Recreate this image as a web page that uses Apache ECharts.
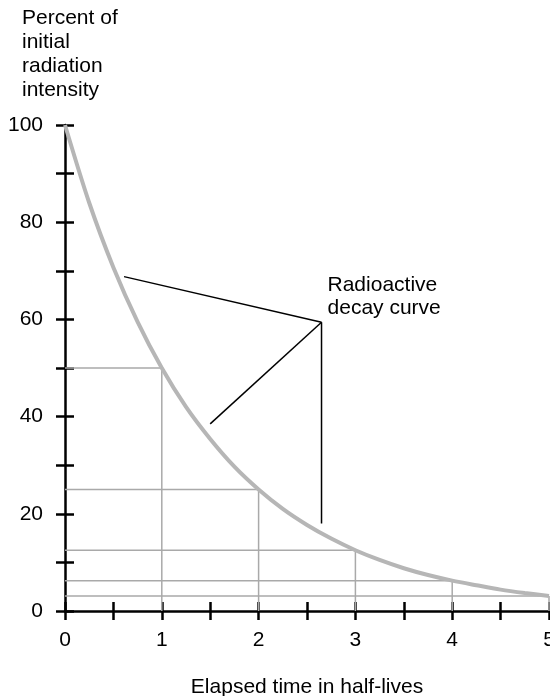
<!DOCTYPE html>
<html>
<head>
<meta charset="utf-8">
<script src="https://cdn.jsdelivr.net/npm/echarts@6/dist/echarts.min.js"></script>
<style>
html,body{margin:0;padding:0;background:#fff;overflow:hidden;}
#chart{width:550px;height:696px;}
</style>
</head>
<body>
<div id="chart"></div>
<script>
// Decay curve values (elapsed half-lives vs percent)
var curveX = [0, 0.25, 0.5, 0.75, 1, 1.25, 1.5, 1.75, 2, 2.25, 2.5, 2.75, 3, 3.25, 3.5, 3.75, 4, 4.25, 4.5, 4.75, 5];
var curveY = [100, 84, 70.7, 59.5, 50, 42, 35.4, 29.7, 25, 21, 17.7, 14.9, 12.5, 10.5, 8.8, 7.4, 6.25, 5.3, 4.4, 3.7, 3.1];

// Half-life guide lines
var guideX = [1, 2, 3, 4, 5];
var guideY = [50, 25, 12.5, 6.25, 3.1];

// Tick labels
var xTickLabels = [0, 1, 2, 3, 4, 5];
var yTickLabels = [0, 20, 40, 60, 80, 100];

// Annotation pointer lines (data coordinates)
var annoFrom = [[0.61, 68.8], [1.5, 38.5], [2.65, 59.4]];
var annoTo = [[2.65, 59.4], [2.65, 59.4], [2.65, 18.0]];
var annoText = 'Radioactive\ndecay curve';

var yTitle = 'Percent of\ninitial\nradiation\nintensity';
var xTitle = 'Elapsed time in half-lives';

var FONT = '"Liberation Sans", Arial, Helvetica, sans-serif';
var chart = echarts.init(document.getElementById('chart'), null, {renderer: 'canvas'});

var series = [];
// guide lines
guideX.forEach(function (gx, i) {
  var gy = guideY[i];
  series.push({
    type: 'line', silent: true, symbol: 'none', animation: false, z: 1,
    lineStyle: {color: '#a9a9a9', width: 1.5},
    data: [[0, gy], [gx, gy]]
  });
  series.push({
    type: 'line', silent: true, symbol: 'none', animation: false, z: 1,
    lineStyle: {color: '#a9a9a9', width: 1.5},
    data: [[gx, 0], [gx, gy]]
  });
});
// curve
series.push({
  type: 'line', silent: true, symbol: 'none', animation: false, smooth: 0.3, z: 3,
  lineStyle: {color: '#b6b6b6', width: 4},
  data: curveX.map(function (x, i) { return [x, curveY[i]]; })
});
// annotation pointers
annoFrom.forEach(function (p, i) {
  series.push({
    type: 'line', silent: true, symbol: 'none', animation: false, z: 4,
    lineStyle: {color: '#000', width: 1.5},
    data: [p, annoTo[i]]
  });
});

var yLabelSet = {};
yTickLabels.forEach(function (v) { yLabelSet[v] = true; });
var xLabelSet = {};
xTickLabels.forEach(function (v) { xLabelSet[v] = true; });

var tickStyle = {color: '#000', width: 2.5};

chart.setOption({
  animation: false,
  backgroundColor: '#fff',
  textStyle: {fontFamily: FONT},
  title: {
    text: yTitle,
    left: 22, top: 6, padding: 0,
    textStyle: {fontFamily: FONT, fontSize: 21, fontWeight: 'normal', color: '#000', lineHeight: 24}
  },
  grid: {left: 65, right: 1, top: 125, bottom: 85, containLabel: false, outerBoundsMode: 'none'},
  xAxis: [{
    type: 'value', min: 0, max: 5, interval: 0.5, position: 'bottom',
    axisLine: {show: true, onZero: false, lineStyle: {color: '#000', width: 2.5}},
    axisTick: {show: true, inside: false, length: 9, lineStyle: tickStyle},
    axisLabel: {
      show: true, margin: 19, fontSize: 21, color: '#000', fontFamily: FONT,
      showMaxLabel: true, showMinLabel: true,
      formatter: function (v) { return xLabelSet[v] ? String(v) : ''; }
    },
    splitLine: {show: false},
    name: xTitle, nameLocation: 'middle', nameGap: 66,
    nameTextStyle: {fontSize: 21, color: '#000', fontFamily: FONT}
  }, {
    type: 'value', min: 0, max: 5, interval: 0.5, position: 'bottom', offset: 0,
    axisLine: {show: false, onZero: false},
    axisTick: {show: true, inside: true, length: 9, lineStyle: tickStyle},
    axisLabel: {show: false},
    splitLine: {show: false}
  }],
  yAxis: [{
    type: 'value', min: 0, max: 100, interval: 10, position: 'left',
    axisLine: {show: true, onZero: false, lineStyle: {color: '#000', width: 2.5}},
    axisTick: {show: true, inside: false, length: 9, lineStyle: tickStyle},
    axisLabel: {
      show: true, margin: 22, fontSize: 21, color: '#000', fontFamily: FONT,
      showMaxLabel: true, showMinLabel: true,
      formatter: function (v) { return yLabelSet[v] ? String(v) : ''; }
    },
    splitLine: {show: false}
  }, {
    type: 'value', min: 0, max: 100, interval: 10, position: 'left', offset: 0,
    axisLine: {show: false, onZero: false},
    axisTick: {show: true, inside: true, length: 9, lineStyle: tickStyle},
    axisLabel: {show: false},
    splitLine: {show: false}
  }],
  series: series
});

// annotation label anchored to the junction of the pointer lines
var jp = chart.convertToPixel({xAxisIndex: 0, yAxisIndex: 0}, annoTo[0]);
chart.setOption({
  graphic: [{
    type: 'text', silent: true,
    x: jp[0] + 6, y: jp[1] - 49,
    style: {text: annoText, font: '21px ' + FONT, fill: '#000', lineHeight: 23, textAlign: 'left', textVerticalAlign: 'top'}
  }]
});
</script>
</body>
</html>
